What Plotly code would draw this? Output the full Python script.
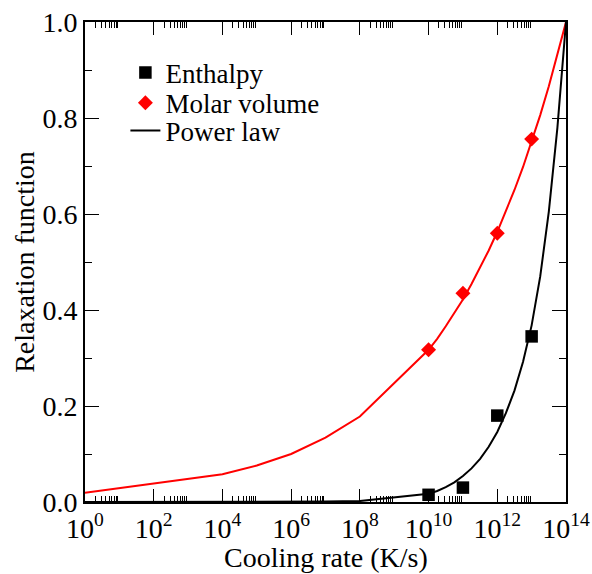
import plotly.graph_objects as go

# ---- data ----
rate_points = [1e10, 1e11, 1e12, 1e13]
enthalpy = [0.015, 0.030, 0.180, 0.345]
molar_volume = [0.317, 0.435, 0.560, 0.756]

# power-law curves sampled at these cooling-rate exponents
fit_exp = [0, 4, 5, 6, 7, 8, 10, 10.25, 10.5, 10.75, 11, 11.25, 11.5, 11.75,
           12, 12.25, 12.5, 12.75, 13, 13.25, 13.5, 13.75, 14]
fit_enthalpy = [0.0, 0.0, 0.0001, 0.0003, 0.0008, 0.002, 0.017, 0.023, 0.031, 0.041,
                0.054, 0.070, 0.090, 0.115, 0.146, 0.185, 0.232, 0.292, 0.368,
                0.470, 0.605, 0.780, 1.0]
fit_volume = [0.019, 0.058, 0.076, 0.100, 0.134, 0.178, 0.317, 0.340, 0.366, 0.393,
              0.422, 0.454, 0.488, 0.524, 0.563, 0.605, 0.650, 0.698, 0.750,
              0.806, 0.866, 0.931, 1.0]
fit_rate = [10 ** e for e in fit_exp]

x_major_exp = [0, 2, 4, 6, 8, 10, 12, 14]
x_major = [10 ** e for e in x_major_exp]
x_labels = ["10<sup>%d</sup>" % e for e in x_major_exp]
x_minor = [k * m for m in x_major[:-1] for k in range(2, 10)]

FONT = "Liberation Serif"

fig = go.Figure()
fig.add_trace(go.Scatter(x=fit_rate, y=fit_volume, mode="lines",
                         line=dict(color="#ff0000", width=2), showlegend=False))
fig.add_trace(go.Scatter(x=fit_rate, y=fit_enthalpy, mode="lines", name="Power law",
                         line=dict(color="black", width=2), legend="legend3"))
fig.add_trace(go.Scatter(x=rate_points, y=enthalpy, mode="markers", name="Enthalpy",
                         marker=dict(symbol="square", size=12.5, color="black"),
                         cliponaxis=False, legend="legend"))
fig.add_trace(go.Scatter(x=rate_points, y=molar_volume, mode="markers", name="Molar volume",
                         marker=dict(symbol="diamond", size=11.5, color="#ff0000"),
                         cliponaxis=False, legend="legend2"))

leg_common = dict(xanchor="left", yanchor="middle", x=0.084, bgcolor="rgba(0,0,0,0)",
                  font=dict(family=FONT, size=27, color="black"), borderwidth=0)

fig.update_layout(
    width=592, height=574,
    margin=dict(l=85, r=26, t=22, b=72),
    paper_bgcolor="white", plot_bgcolor="white",
    font=dict(family=FONT, color="black"),
    legend=dict(y=0.894, **leg_common),
    legend2=dict(y=0.831, **leg_common),
    legend3=dict(y=0.773, **leg_common),
    xaxis=dict(
        type="log", range=[0, 14], automargin=False,
        tickmode="array", tickvals=x_major, ticktext=x_labels, tickangle=0,
        ticks="inside", ticklen=13, tickwidth=1.2, tickcolor="black",
        showline=True, linewidth=2, linecolor="black", mirror="allticks",
        showgrid=False, zeroline=False,
        tickfont=dict(family=FONT, size=28, color="black"),
        minor=dict(tickmode="array", tickvals=x_minor, ticks="inside", ticklen=6,
                   tickwidth=1, tickcolor="black", showgrid=False),
    ),
    yaxis=dict(
        range=[0, 1], dtick=0.2, tick0=0, tickformat=".1f", automargin=False,
        ticks="inside", ticklen=14, tickwidth=1.2, tickcolor="black",
        showline=True, linewidth=2, linecolor="black", mirror="allticks",
        showgrid=False, zeroline=False,
        tickfont=dict(family=FONT, size=28, color="black"),
        minor=dict(dtick=0.1, ticks="inside", ticklen=7, tickwidth=1,
                   tickcolor="black", showgrid=False),
        title=dict(text="Relaxation function", font=dict(family=FONT, size=28, color="black"),
                   standoff=0),
    ),
    annotations=[dict(text="Cooling rate (K/s)", xref="paper", yref="paper",
                      x=0.5, y=-0.1165, xanchor="center", yanchor="middle",
                      showarrow=False, font=dict(family=FONT, size=28, color="black"))],
)

fig.write_html("out.html", config={"displayModeBar": False},
               post_script="document.body.style.margin='0';document.body.style.overflow='hidden';")
